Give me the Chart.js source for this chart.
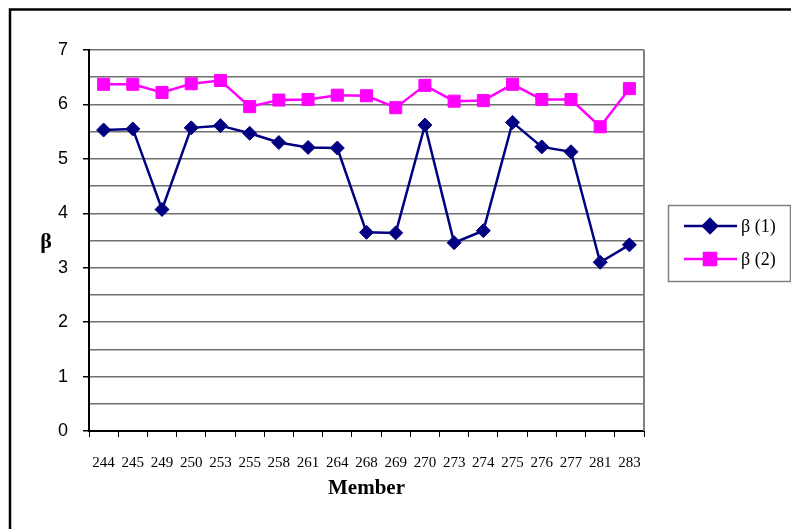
<!DOCTYPE html>
<html>
<head>
<meta charset="utf-8">
<script src="https://cdn.jsdelivr.net/npm/chart.js@4.4.0/dist/chart.umd.min.js"></script>
<style>
  html, body { margin: 0; padding: 0; background: #fff; }
  #wrap { width: 791px; height: 529px; }
</style>
</head>
<body>
<div id="wrap"><canvas id="graph" width="791" height="529"></canvas></div>
<script>
// membres (axe X)
var members = ['244', '245', '249', '250', '253', '255', '258', '261', '264', '268',
               '269', '270', '273', '274', '275', '276', '277', '281', '283'];

// valeurs
var beta1 = [5.53, 5.55, 4.07, 5.57, 5.61, 5.47, 5.30, 5.21, 5.20, 3.65,
             3.64, 5.62, 3.46, 3.68, 5.67, 5.22, 5.13, 3.10, 3.42];
var beta2 = [6.37, 6.37, 6.22, 6.38, 6.44, 5.96, 6.08, 6.09, 6.17, 6.16,
             5.94, 6.35, 6.06, 6.07, 6.37, 6.09, 6.09, 5.59, 6.29];

var seriesNames = ['\u03B2 (1)', '\u03B2 (2)'];
var yMin = 0, yMax = 7, yStep = 0.5;

// cadre, bordure droite, titre Y et légende
var decorations = {
    id: 'decorations',
    afterDraw: function (chart) {
        var ctx = chart.ctx;
        var area = chart.chartArea;
        ctx.save();

        // cadre extérieur
        ctx.strokeStyle = '#000';
        ctx.lineWidth = 2.5;
        ctx.beginPath();
        ctx.moveTo(10, 529);
        ctx.lineTo(10, 9.5);
        ctx.lineTo(791, 9.5);
        ctx.stroke();

        // bordure droite du graphique
        ctx.strokeStyle = '#808080';
        ctx.lineWidth = 2;
        ctx.beginPath();
        ctx.moveTo(area.right, area.top);
        ctx.lineTo(area.right, area.bottom);
        ctx.stroke();

        // titre Y
        ctx.fillStyle = '#000';
        ctx.font = 'bold 22px "Liberation Serif"';
        ctx.textAlign = 'center';
        ctx.textBaseline = 'middle';
        ctx.fillText('\u03B2', 46, 242);

        // légende
        ctx.strokeStyle = '#808080';
        ctx.lineWidth = 1.5;
        ctx.strokeRect(668.5, 205.5, 122, 76);
        var rows = [226, 259];
        chart.data.datasets.forEach(function (ds, i) {
            var y = rows[i];
            ctx.strokeStyle = ds.borderColor;
            ctx.lineWidth = 2.5;
            ctx.beginPath();
            ctx.moveTo(684, y);
            ctx.lineTo(737, y);
            ctx.stroke();
            ctx.fillStyle = ds.backgroundColor;
            Chart.helpers.drawPoint(ctx, {
                pointStyle: ds.pointStyle,
                radius: ds.pointRadius,
                borderWidth: 1
            }, 710, y);
            ctx.fillStyle = '#000';
            ctx.font = '18px "Liberation Serif"';
            ctx.textAlign = 'left';
            ctx.textBaseline = 'middle';
            ctx.fillText(ds.label, 741, y + 1);
        });
        ctx.restore();
    }
};

var ctx = document.getElementById('graph').getContext('2d');
var myChart = new Chart(ctx, {
    type: 'line',
    data: {
        labels: members,
        datasets: [{
            label: seriesNames[0],
            data: beta1,
            borderColor: '#000080',
            backgroundColor: '#000080',
            borderWidth: 2.5,
            pointStyle: 'rectRot',
            pointRadius: 7,
            pointBorderWidth: 1,
            fill: false,
            tension: 0
        }, {
            label: seriesNames[1],
            data: beta2,
            borderColor: '#FF00FF',
            backgroundColor: '#FF00FF',
            borderWidth: 2.5,
            pointStyle: 'rect',
            pointRadius: 8.5,
            pointBorderWidth: 1,
            fill: false,
            tension: 0
        }]
    },
    options: {
        responsive: false,
        animation: false,
        layout: { padding: { top: 50, right: 147, left: 0, bottom: 0 } },
        plugins: {
            legend: { display: false },
            tooltip: { enabled: false }
        },
        scales: {
            x: {
                type: 'category',
                offset: true,
                afterFit: function (scale) { scale.height = 98; },
                grid: {
                    offset: true,
                    drawOnChartArea: false,
                    drawTicks: true,
                    tickLength: 6,
                    tickColor: '#000'
                },
                border: { display: true, color: '#000', width: 2 },
                ticks: {
                    color: '#000',
                    font: { family: 'Liberation Serif', size: 15 },
                    maxRotation: 0,
                    autoSkip: false,
                    padding: 17
                },
                title: {
                    display: true,
                    text: 'Member',
                    color: '#000',
                    font: { family: 'Liberation Serif', size: 21, weight: 'bold' },
                    padding: { top: 0, bottom: 28 }
                }
            },
            y: {
                min: yMin,
                max: yMax,
                afterFit: function (scale) { scale.width = 89; },
                grid: {
                    color: '#707070',
                    lineWidth: 1.5,
                    tickLength: 6,
                    tickColor: function (c) {
                        return Number.isInteger(c.tick.value) ? '#000' : 'rgba(0,0,0,0)';
                    }
                },
                border: { display: true, color: '#000', width: 2 },
                ticks: {
                    stepSize: yStep,
                    color: '#000',
                    font: { family: 'Liberation Sans', size: 18 },
                    padding: 15,
                    callback: function (v) { return Number.isInteger(v) ? String(v) : ''; }
                }
            }
        }
    },
    plugins: [decorations]
});
</script>
</body>
</html>
